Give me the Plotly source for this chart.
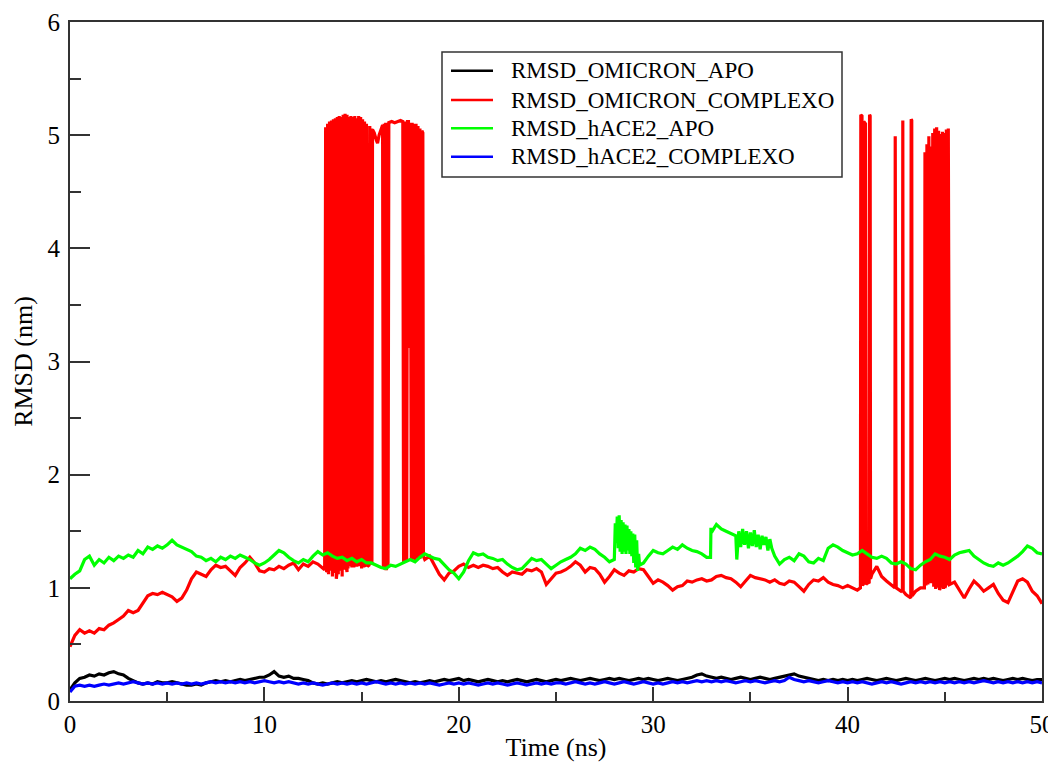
import numpy as np
import plotly.graph_objects as go

# ---------------- data ----------------
STEP = 0.25
TIME = np.round(np.arange(0, 50 + STEP / 2, STEP), 2)  # 0, 0.25, ..., 50 ns

OMICRON_APO = [
    0.10, 0.16, 0.20, 0.21, 0.23, 0.22, 0.24, 0.23, 0.25, 0.26, 0.24, 0.23, 0.20, 0.18, 0.16, 0.15, 0.16, 0.15, 0.17, 0.16, 0.16,
    0.17, 0.16, 0.15, 0.14, 0.14, 0.15, 0.14, 0.16, 0.17, 0.18, 0.17, 0.18, 0.17, 0.18, 0.19, 0.18, 0.19, 0.20, 0.21, 0.21,
    0.23, 0.26, 0.22, 0.21, 0.22, 0.20, 0.20, 0.19, 0.18, 0.16, 0.15, 0.16, 0.15, 0.16, 0.17, 0.16, 0.17, 0.18, 0.17, 0.18,
    0.19, 0.18, 0.17, 0.18, 0.17, 0.18, 0.19, 0.18, 0.17, 0.16, 0.17, 0.16, 0.17, 0.18, 0.17, 0.18, 0.19, 0.18, 0.19, 0.20,
    0.18, 0.19, 0.18, 0.17, 0.18, 0.19, 0.18, 0.17, 0.18, 0.17, 0.18, 0.19, 0.18, 0.17, 0.18, 0.19, 0.18, 0.17, 0.18, 0.19,
    0.18, 0.19, 0.20, 0.19, 0.18, 0.19, 0.20, 0.19, 0.18, 0.19, 0.20, 0.19, 0.20, 0.19, 0.18, 0.19, 0.20, 0.19, 0.20, 0.19,
    0.18, 0.19, 0.20, 0.19, 0.18, 0.19, 0.20, 0.21, 0.23, 0.24, 0.22, 0.21, 0.20, 0.21, 0.20, 0.19, 0.20, 0.21, 0.20, 0.19,
    0.20, 0.21, 0.20, 0.19, 0.20, 0.21, 0.22, 0.23, 0.24, 0.22, 0.21, 0.20, 0.19, 0.18, 0.19, 0.18, 0.19, 0.18, 0.19, 0.18,
    0.19, 0.18, 0.19, 0.20, 0.19, 0.18, 0.19, 0.20, 0.19, 0.18, 0.19, 0.20, 0.19, 0.18, 0.19, 0.20, 0.19, 0.18, 0.19, 0.20,
    0.19, 0.20, 0.19, 0.18, 0.19, 0.20, 0.19, 0.20, 0.19, 0.20, 0.19, 0.18, 0.19, 0.20, 0.19, 0.20, 0.19, 0.18, 0.19, 0.19,
]

OMICRON_COMPLEXO = [
    0.48, 0.58, 0.63, 0.60, 0.62, 0.60, 0.64, 0.63, 0.67, 0.69, 0.72, 0.75, 0.80, 0.78, 0.80, 0.86, 0.93, 0.95, 0.94, 0.96, 0.94,
    0.92, 0.88, 0.91, 0.98, 1.08, 1.14, 1.12, 1.10, 1.16, 1.20, 1.18, 1.19, 1.15, 1.11, 1.18, 1.22, 1.27, 1.22, 1.15, 1.14,
    1.17, 1.16, 1.19, 1.17, 1.20, 1.22, 1.16, 1.21, 1.19, 1.23, 1.21, 1.17, 1.15, 1.12, 1.16, 1.10, 1.14, 1.18, 1.20, 1.17,
    1.19, 1.22, 1.20, 1.18, 1.17, 1.20, 1.19, 1.21, 1.23, 1.24, 1.26, 1.27, 1.25, 1.28, 1.20, 1.12, 1.07, 1.13, 1.15, 1.19,
    1.21, 1.18, 1.20, 1.18, 1.20, 1.19, 1.17, 1.18, 1.14, 1.11, 1.14, 1.13, 1.12, 1.16, 1.15, 1.17, 1.14, 1.03, 1.08, 1.13,
    1.14, 1.16, 1.19, 1.23, 1.20, 1.14, 1.18, 1.17, 1.12, 1.05, 1.10, 1.16, 1.13, 1.11, 1.15, 1.14, 1.17, 1.16, 1.10, 1.04,
    1.07, 1.05, 1.02, 0.98, 1.01, 1.02, 1.06, 1.05, 1.07, 1.08, 1.06, 1.07, 1.10, 1.11, 1.09, 1.08, 1.05, 1.01, 1.06, 1.11,
    1.09, 1.08, 1.07, 1.05, 1.07, 1.04, 1.03, 1.06, 1.05, 1.01, 0.97, 1.03, 1.07, 1.06, 1.09, 1.05, 1.03, 1.02, 1.00, 1.02,
    1.00, 0.98, 1.00, 1.04, 1.12, 1.19, 1.10, 1.06, 1.03, 1.00, 0.97, 0.94, 0.91, 0.97, 1.00, 1.02, 1.04, 1.01, 0.99, 1.00,
    1.03, 1.05, 0.98, 0.91, 0.99, 1.06, 1.02, 0.97, 1.00, 1.03, 0.95, 0.89, 0.87, 0.96, 1.06, 1.08, 1.05, 0.97, 0.93, 0.86,
]

# fast jumps of the red set up to ~5 nm (time in ns, RMSD in nm)
COMPLEXO_JUMP_T = [
    13.10, 13.15, 13.20, 13.25, 13.30, 13.35, 13.40, 13.45, 13.50, 13.55, 13.60, 13.65, 13.70, 13.75, 13.80,
    13.85, 13.90, 13.95, 14.00, 14.05, 14.10, 14.15, 14.20, 14.25, 14.30, 14.35, 14.40, 14.45, 14.50, 14.55,
    14.60, 14.65, 14.70, 14.75, 14.80, 14.85, 14.90, 14.95, 15.00, 15.05, 15.10, 15.15, 15.20, 15.25, 15.30,
    15.38, 15.42, 15.46, 15.50, 15.53, 15.56, 15.65, 15.75, 15.82, 15.90, 16.00, 16.08,
    16.12, 16.16, 16.20, 16.24, 16.28, 16.32, 16.36, 16.40, 16.55, 16.70, 16.85, 17.00, 17.12,
    17.16, 17.20, 17.24, 17.28, 17.32, 17.36, 17.41, 17.46, 17.51,
    17.56, 17.60, 17.65, 17.70, 17.75, 17.80, 17.85, 17.90, 17.95, 18.00, 18.05, 18.10, 18.15, 18.18,
    40.66, 40.68, 40.74, 40.77, 40.80, 40.83, 40.92, 40.95, 41.11, 41.13, 41.16, 41.18,
    42.43, 42.45, 42.47, 42.82, 42.84, 42.86, 43.25, 43.27, 43.30, 43.32,
    43.95, 43.98, 44.03, 44.08, 44.13, 44.18, 44.23, 44.28, 44.33, 44.38, 44.43, 44.48, 44.53, 44.58,
    44.63, 44.68, 44.73, 44.78, 44.83, 44.88, 44.93, 44.98, 45.03, 45.08, 45.13, 45.18, 45.22,
]
COMPLEXO_JUMP_V = [
    1.16, 5.07, 1.14, 5.10, 1.12, 5.12, 1.15, 5.13, 1.10, 5.14, 1.13, 5.15, 1.08, 5.16, 1.12,
    5.17, 1.15, 5.16, 1.18, 5.18, 1.16, 5.19, 1.20, 5.18, 1.17, 5.16, 1.19, 5.17, 1.21, 5.16,
    1.18, 5.17, 1.20, 5.15, 1.22, 5.17, 1.19, 5.16, 1.21, 5.14, 1.18, 5.12, 1.20, 5.10, 1.19,
    1.20, 5.08, 1.21, 5.06, 1.22, 5.05, 5.02, 4.96, 4.93, 5.00, 5.06, 5.09,
    1.18, 5.10, 1.16, 5.11, 1.17, 5.10, 1.19, 5.11, 5.12, 5.11, 5.12, 5.13, 5.12,
    1.22, 5.12, 1.23, 5.11, 1.24, 5.12, 5.12, 3.12, 5.11,
    1.24, 5.11, 1.25, 5.10, 1.23, 5.10, 1.26, 5.08, 1.27, 5.06, 1.28, 5.04, 5.02, 1.28,
    1.00, 5.18, 5.17, 1.02, 1.03, 5.12, 5.10, 1.03, 1.05, 5.18, 5.17, 1.08,
    1.00, 4.99, 1.01, 0.98, 5.13, 0.97, 0.91, 5.14, 5.13, 0.93,
    1.00, 4.85, 1.02, 4.92, 1.03, 4.99, 1.05, 4.90, 1.04, 5.02, 1.01, 5.06, 0.99, 5.07,
    1.00, 5.04, 0.98, 5.01, 1.00, 5.03, 0.99, 5.02, 1.01, 5.05, 1.02, 5.06, 1.03,
]
# intervals (ns) where the red set stays in its high state
COMPLEXO_HIGH = [(15.54, 16.10), (16.41, 17.14), (17.38, 17.53), (40.67, 40.76), (40.82, 40.94)]

HACE2_APO = [
    1.08, 1.12, 1.15, 1.25, 1.28, 1.20, 1.25, 1.22, 1.27, 1.24, 1.28, 1.26, 1.29, 1.27, 1.33, 1.30, 1.36, 1.34, 1.37, 1.35, 1.38,
    1.42, 1.38, 1.36, 1.34, 1.32, 1.28, 1.27, 1.24, 1.26, 1.23, 1.27, 1.25, 1.28, 1.26, 1.29, 1.27, 1.25, 1.22, 1.20, 1.22,
    1.25, 1.29, 1.33, 1.31, 1.27, 1.24, 1.22, 1.25, 1.23, 1.28, 1.32, 1.29, 1.31, 1.28, 1.26, 1.27, 1.24, 1.26, 1.23, 1.25,
    1.22, 1.22, 1.20, 1.18, 1.17, 1.20, 1.19, 1.21, 1.23, 1.25, 1.23, 1.27, 1.30, 1.28, 1.26, 1.25, 1.20, 1.16, 1.13, 1.08,
    1.14, 1.24, 1.31, 1.29, 1.30, 1.27, 1.26, 1.24, 1.25, 1.21, 1.18, 1.16, 1.17, 1.22, 1.26, 1.24, 1.25, 1.21, 1.17, 1.20,
    1.23, 1.25, 1.27, 1.30, 1.35, 1.33, 1.36, 1.34, 1.30, 1.27, 1.23, 1.25, 1.60, 1.50, 1.45, 1.38, 1.20, 1.22, 1.28, 1.33,
    1.31, 1.30, 1.33, 1.36, 1.34, 1.38, 1.35, 1.33, 1.32, 1.30, 1.27, 1.49, 1.56, 1.52, 1.50, 1.48, 1.46, 1.45, 1.47, 1.44,
    1.46, 1.42, 1.40, 1.38, 1.28, 1.21, 1.25, 1.27, 1.24, 1.30, 1.28, 1.23, 1.22, 1.26, 1.24, 1.35, 1.38, 1.36, 1.33, 1.31,
    1.29, 1.30, 1.33, 1.30, 1.27, 1.26, 1.28, 1.26, 1.22, 1.21, 1.23, 1.21, 1.17, 1.16, 1.20, 1.23, 1.25, 1.30, 1.28, 1.27,
    1.25, 1.29, 1.31, 1.32, 1.33, 1.28, 1.25, 1.22, 1.20, 1.19, 1.22, 1.20, 1.22, 1.25, 1.28, 1.32, 1.37, 1.35, 1.31, 1.30,
]
HACE2_APO_JUMP_T = [
    28.05, 28.10, 28.15, 28.20, 28.25, 28.30, 28.35, 28.40, 28.45, 28.50, 28.55, 28.60, 28.65, 28.70,
    28.75, 28.80, 28.85, 28.90, 28.95, 29.00, 29.05, 29.10, 29.15, 29.20, 29.25, 29.30,
    32.95, 32.97,
    34.30, 34.40, 34.50, 34.60, 34.70, 34.80, 34.90, 35.00, 35.10, 35.20, 35.30, 35.40, 35.50, 35.60,
    35.70, 35.80, 35.90, 36.00, 36.10,
]
HACE2_APO_JUMP_V = [
    1.57, 1.40, 1.63, 1.35, 1.64, 1.32, 1.60, 1.30, 1.58, 1.32, 1.56, 1.30, 1.55, 1.33,
    1.52, 1.30, 1.50, 1.28, 1.48, 1.22, 1.47, 1.18, 1.42, 1.15, 1.30, 1.20,
    1.27, 1.53,
    1.25, 1.50, 1.36, 1.52, 1.38, 1.50, 1.35, 1.49, 1.37, 1.51, 1.36, 1.47, 1.34, 1.46,
    1.38, 1.45, 1.33, 1.43, 1.35,
]
HACE2_APO_HOLD = [(28.02, 29.32), (34.28, 36.12)]

HACE2_COMPLEXO = [
    0.08, 0.13, 0.14, 0.13, 0.14, 0.13, 0.14, 0.15, 0.14, 0.15, 0.16, 0.15, 0.16, 0.17, 0.16, 0.15, 0.16, 0.15, 0.16, 0.15, 0.16,
    0.15, 0.16, 0.15, 0.16, 0.15, 0.16, 0.15, 0.16, 0.17, 0.16, 0.17, 0.16, 0.17, 0.16, 0.17, 0.16, 0.17, 0.16, 0.17, 0.18,
    0.17, 0.16, 0.17, 0.16, 0.17, 0.16, 0.15, 0.16, 0.15, 0.16, 0.15, 0.14, 0.15, 0.16, 0.15, 0.16, 0.15, 0.16, 0.15, 0.16,
    0.15, 0.16, 0.17, 0.16, 0.15, 0.16, 0.15, 0.16, 0.15, 0.16, 0.15, 0.16, 0.15, 0.16, 0.15, 0.14, 0.15, 0.16, 0.15, 0.16,
    0.15, 0.16, 0.15, 0.14, 0.15, 0.16, 0.15, 0.16, 0.15, 0.14, 0.15, 0.16, 0.15, 0.14, 0.15, 0.16, 0.15, 0.16, 0.15, 0.16,
    0.16, 0.15, 0.16, 0.17, 0.16, 0.15, 0.16, 0.15, 0.16, 0.17, 0.16, 0.15, 0.16, 0.17, 0.16, 0.15, 0.16, 0.17, 0.16, 0.15,
    0.16, 0.15, 0.16, 0.17, 0.16, 0.17, 0.16, 0.17, 0.18, 0.17, 0.18, 0.17, 0.18, 0.17, 0.18, 0.17, 0.16, 0.17, 0.18, 0.17,
    0.18, 0.17, 0.16, 0.17, 0.18, 0.17, 0.18, 0.21, 0.19, 0.18, 0.17, 0.18, 0.17, 0.16, 0.17, 0.18, 0.17, 0.16, 0.17, 0.16,
    0.17, 0.16, 0.17, 0.16, 0.15, 0.16, 0.17, 0.16, 0.17, 0.16, 0.15, 0.16, 0.17, 0.16, 0.17, 0.16, 0.17, 0.16, 0.17, 0.16,
    0.17, 0.16, 0.17, 0.16, 0.17, 0.16, 0.17, 0.18, 0.17, 0.16, 0.17, 0.16, 0.17, 0.16, 0.17, 0.16, 0.17, 0.16, 0.17, 0.16,
]

NAMES = ["RMSD_OMICRON_APO", "RMSD_OMICRON_COMPLEXO", "RMSD_hACE2_APO", "RMSD_hACE2_COMPLEXO"]
COLORS = ["#000000", "#ff0000", "#00ff00", "#0000ff"]


def assemble(base, extra_t=(), extra_v=(), holds=()):
    pts = [(float(t), v) for t, v in zip(TIME, base)
           if not any(a <= t <= b for a, b in holds)]
    pts += list(zip(extra_t, extra_v))
    pts.sort(key=lambda p: p[0])
    return [p[0] for p in pts], [p[1] for p in pts]


series = [
    assemble(OMICRON_APO),
    assemble(OMICRON_COMPLEXO, COMPLEXO_JUMP_T, COMPLEXO_JUMP_V, COMPLEXO_HIGH),
    assemble(HACE2_APO, HACE2_APO_JUMP_T, HACE2_APO_JUMP_V, HACE2_APO_HOLD),
    assemble(HACE2_COMPLEXO),
]

FONT = "Liberation Serif"
AX = "#333333"

# The page body has an 8px margin, so the figure is sized/offset to put the
# plot area at page pixels x 70..1042, y 22..701.
OFF = 8
W, H = 1056 - OFF, 762 - OFF
ML, MR, MT, MB = 70 - OFF, 14, 22 - OFF, 61
PW, PH = W - ML - MR, H - MT - MB


def px(page_x):
    return (page_x - OFF - ML) / PW


def py(page_y):
    return (H - MB - (page_y - OFF)) / PH


fig = go.Figure()
for (xs, ys), name, col in zip(series, NAMES, COLORS):
    fig.add_trace(go.Scatter(x=xs, y=ys, mode="lines", name=name, showlegend=False,
                             line=dict(color=col, width=3.2)))

axis_common = dict(
    showgrid=False, zeroline=False, showline=True, linecolor=AX, linewidth=2,
    mirror=True, ticks="inside", tickcolor=AX, tickwidth=2, automargin=False,
    tickfont=dict(family=FONT, size=25, color="black"),
)
fig.update_xaxes(range=[0, 50], tickmode="linear", tick0=0, dtick=10, ticklen=14,
                 minor=dict(dtick=5, ticks="inside", ticklen=9, tickwidth=2, tickcolor=AX, showgrid=False),
                 title=dict(text="Time (ns)", font=dict(family=FONT, size=26, color="black"), standoff=7),
                 **axis_common)
fig.update_yaxes(range=[0, 6], tickmode="linear", tick0=0, dtick=1, ticklen=20,
                 ticklabelstandoff=3,
                 minor=dict(dtick=0.5, ticks="inside", ticklen=11, tickwidth=2, tickcolor=AX, showgrid=False),
                 title=dict(text="RMSD (nm)", font=dict(family=FONT, size=26, color="black"), standoff=7),
                 **axis_common)

# boxed legend (Grace style), positions in page pixels
shapes = [dict(type="rect", xref="paper", yref="paper",
               x0=px(442), x1=px(842), y0=py(177), y1=py(52),
               line=dict(color=AX, width=1.5), fillcolor="white", layer="above")]
annotations = []
ROW_Y = [70.7, 100.0, 128.3, 156.7]
for name, col, ry in zip(NAMES, COLORS, ROW_Y):
    shapes.append(dict(type="line", xref="paper", yref="paper",
                       x0=px(451), x1=px(493), y0=py(ry), y1=py(ry),
                       line=dict(color=col, width=2.5), layer="above"))
    annotations.append(dict(xref="paper", yref="paper", x=px(509), y=py(ry),
                            xanchor="left", yanchor="middle", showarrow=False,
                            text=name, font=dict(family=FONT, size=23, color="black")))

fig.update_layout(
    width=W, height=H,
    margin=dict(l=ML, r=MR, t=MT, b=MB),
    paper_bgcolor="white", plot_bgcolor="white",
    showlegend=False,
    shapes=shapes, annotations=annotations,
)

fig.write_html("out.html")
